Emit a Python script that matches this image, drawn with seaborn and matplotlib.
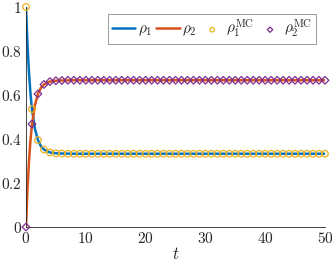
import matplotlib
matplotlib.use('Agg')
import matplotlib.pyplot as plt
import seaborn as sns
import pandas as pd

# smooth curves
t_line = [0, 0.25, 0.5, 0.75, 1, 1.5, 2, 2.5, 3, 4, 5, 6, 8, 10, 20, 30, 40, 50]
rho1_line = [1.0, 0.828, 0.701, 0.606, 0.536, 0.445, 0.395, 0.367, 0.352, 0.339, 0.335,
             0.334, 0.333, 0.333, 0.333, 0.333, 0.333, 0.333]
rho2_line = [0.0, 0.172, 0.299, 0.394, 0.464, 0.555, 0.605, 0.633, 0.648, 0.661, 0.665,
             0.666, 0.667, 0.667, 0.667, 0.667, 0.667, 0.667]

# Monte Carlo markers at t = 0..50
t_mc = list(range(51))
rho1_mc = [1.0, 0.536, 0.395, 0.352, 0.339, 0.335, 0.334] + [0.333] * 44
rho2_mc = [0.0, 0.468, 0.605, 0.648, 0.661, 0.665, 0.666] + [0.667] * 44

xticks = [0, 10, 20, 30, 40, 50]
yticks = [0, 0.2, 0.4, 0.6, 0.8, 1]

sns.set_style('white')
plt.rcParams['mathtext.fontset'] = 'cm'
plt.rcParams['font.family'] = ['DejaVu Serif']

fig = plt.figure(figsize=(3.32, 2.69), dpi=100)
ax = fig.add_axes([26/332, 42/269, 299/332, 220/269])

lines = pd.DataFrame({'t': t_line, 'r1': rho1_line, 'r2': rho2_line})
mc = pd.DataFrame({'t': t_mc, 'r1': rho1_mc, 'r2': rho2_mc})

sns.lineplot(data=lines, x='t', y='r1', ax=ax, color='#0072BD', lw=1.8, label=r'$\rho_1$')
sns.lineplot(data=lines, x='t', y='r2', ax=ax, color='#D95319', lw=1.8, label=r'$\rho_2$')
sns.scatterplot(data=mc, x='t', y='r1', ax=ax, marker='o', s=22, facecolor='none',
                edgecolor='#EDB120', linewidth=0.9, label=r'$\rho_1^{\mathrm{MC}}$',
                zorder=3, clip_on=False)
sns.scatterplot(data=mc, x='t', y='r2', ax=ax, marker='D', s=15, facecolor='none',
                edgecolor='#7E2F8E', linewidth=0.9, label=r'$\rho_2^{\mathrm{MC}}$',
                zorder=3, clip_on=False)

ax.set_xlim(0, 50)
ax.set_ylim(0, 1)
ax.set_xticks(xticks)
ax.set_yticks(yticks)
ax.set_xticklabels([f'${v}$' for v in xticks], fontsize=11)
ax.set_yticklabels([f'${v:g}$' for v in yticks], fontsize=11)
ax.set_xlabel(r'$t$', fontsize=12, labelpad=0)
ax.set_ylabel('')
for s in ['top', 'right']:
    ax.spines[s].set_visible(False)
for s in ['left', 'bottom']:
    ax.spines[s].set_color('#262626')
    ax.spines[s].set_linewidth(0.6)
ax.tick_params(direction='in', length=3, width=0.6, color='#262626', pad=3)

leg = ax.legend(loc='upper right', bbox_to_anchor=(0.97, 0.968), ncol=4, frameon=True,
                fancybox=False, edgecolor='#6e6e6e', fontsize=11, borderaxespad=0,
                handlelength=1.55, handletextpad=0.15, columnspacing=0.25, borderpad=0.25,
                markerscale=0.7)
leg.get_frame().set_linewidth(0.6)

fig.savefig('out.png', dpi=100)
